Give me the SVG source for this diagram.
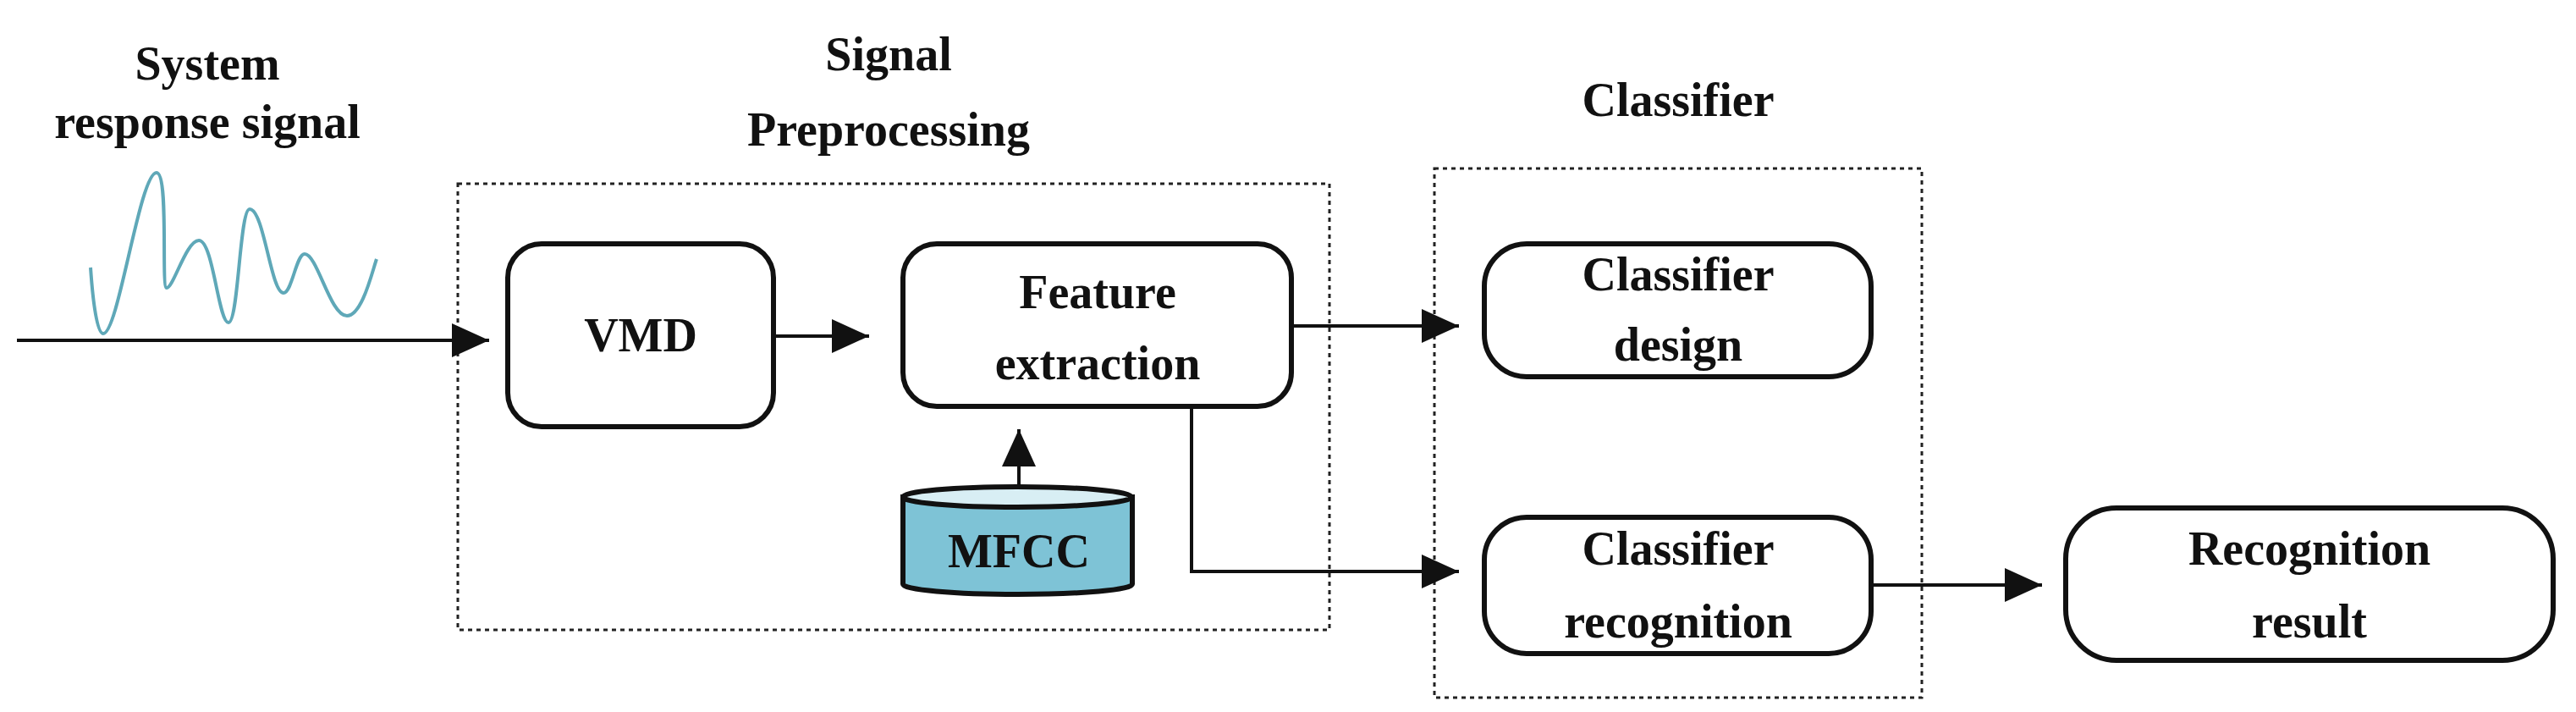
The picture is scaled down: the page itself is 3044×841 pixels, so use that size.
<svg xmlns="http://www.w3.org/2000/svg" width="3044" height="841" viewBox="0 0 3044 841">
<style>
.t{font-family:"Liberation Serif",serif;font-weight:bold;font-size:56px;fill:#111;text-anchor:middle}
.b{fill:#fff;stroke:#111;stroke-width:6}
.g{fill:none;stroke:#222;stroke-width:3;stroke-dasharray:5 5}
.c{fill:none;stroke:#111;stroke-width:4}
</style>
<defs><marker id="a" markerWidth="10" markerHeight="10" refX="9" refY="5" orient="auto" markerUnits="userSpaceOnUse" viewBox="0 0 10 10" preserveAspectRatio="none"><path d="M0,0L10,5L0,10z" fill="#111"/></marker>
<marker id="ah" viewBox="0 0 10 10" refX="10" refY="5" markerWidth="44" markerHeight="40" orient="auto" markerUnits="userSpaceOnUse" preserveAspectRatio="none"><path d="M0,0L10,5L0,10z" fill="#111"/></marker></defs>
<rect width="3044" height="841" fill="#fff"/>
<g id="groups">
<rect class="g" x="541" y="217" width="1030" height="527"/>
<rect class="g" x="1695" y="199" width="576" height="625"/>
<text class="t" x="1050" y="83">Signal</text><text class="t" x="1050" y="172">Preprocessing</text>
<text class="t" x="1983" y="137">Classifier</text>
</g>
<g id="input">
<text class="t" x="245" y="94">System</text><text class="t" x="245" y="163">response signal</text>
<path d="M107,316 C110,360 115,394 122,394 C140,394 165,204 185,204 C200,204 190,340 197,340 C205,340 220,284 235,284 C252,284 258,381 270,381 C282,381 283,247 295,247 C312,247 320,346 335,346 C345,346 350,300 360,300 C375,300 390,373 410,373 C428,373 440,320 445,306" fill="none" stroke="#5fa8b8" stroke-width="4"/>
</g>
<g id="vmd"><rect class="b" x="600" y="288" width="314" height="216" rx="40"/><text class="t" x="757" y="415">VMD</text></g>
<g id="feature"><rect class="b" x="1067" y="288" width="459" height="192" rx="40"/><text class="t" x="1297" y="364">Feature</text><text class="t" x="1297" y="448">extraction</text></g>
<g id="mfcc">
<path d="M1067,587 L1067,690 A135,12 0 0 0 1338,690 L1338,587 Z" fill="#7ec3d6" stroke="#111" stroke-width="6"/>
<ellipse cx="1202" cy="587" rx="135" ry="12" fill="#d8eef4" stroke="#111" stroke-width="6"/>
<text class="t" x="1204" y="670">MFCC</text>
</g>
<g id="design"><rect class="b" x="1754" y="288" width="457" height="157" rx="50"/><text class="t" x="1983" y="343">Classifier</text><text class="t" x="1983" y="426">design</text></g>
<g id="recog"><rect class="b" x="1754" y="611" width="457" height="161" rx="50"/><text class="t" x="1983" y="667">Classifier</text><text class="t" x="1983" y="753">recognition</text></g>
<g id="result"><rect class="b" x="2441" y="600" width="576" height="180" rx="60"/><text class="t" x="2729" y="667">Recognition</text><text class="t" x="2729" y="753">result</text></g>
<g id="connectors">
<path class="c" d="M20,402H578" marker-end="url(#ah)"/>
<path class="c" d="M914,397H1027" marker-end="url(#ah)"/>
<path class="c" d="M1204,576V507" marker-end="url(#ah)"/>
<path class="c" d="M1526,385H1724" marker-end="url(#ah)"/>
<path class="c" d="M1408,480V675H1724" marker-end="url(#ah)"/>
<path class="c" d="M2211,691H2413" marker-end="url(#ah)"/>
</g>
</svg>
